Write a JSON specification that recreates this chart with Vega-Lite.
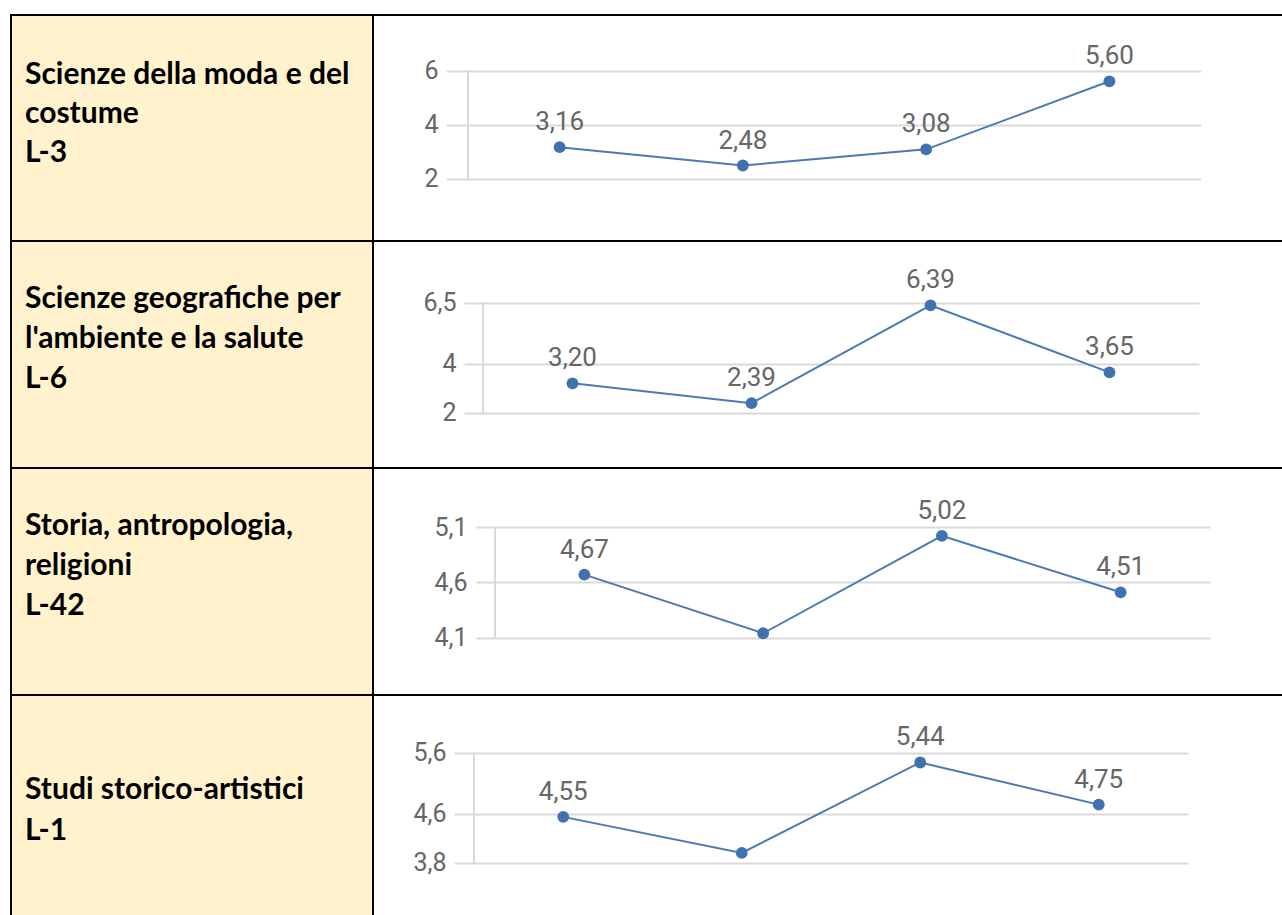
{
  "$schema": "https://vega.github.io/schema/vega-lite/v6.json",
  "padding": {"left": 10, "top": 14, "right": 0, "bottom": 0},
  "background": "white",
  "columns": 2,
  "spacing": 0,
  "bounds": "flush",
  "config": {
    "locale": {"number": {"decimal": ",", "thousands": ".", "grouping": [3], "currency": ["", " €"]}},
    "concat": {"spacing": 0}
  },
  "datasets": {
    "series": [
      {"course": "L-3", "period": 1, "value": 3.16, "labelled": true},
      {"course": "L-3", "period": 2, "value": 2.48, "labelled": true},
      {"course": "L-3", "period": 3, "value": 3.08, "labelled": true},
      {"course": "L-3", "period": 4, "value": 5.60, "labelled": true},
      {"course": "L-6", "period": 1, "value": 3.20, "labelled": true},
      {"course": "L-6", "period": 2, "value": 2.39, "labelled": true},
      {"course": "L-6", "period": 3, "value": 6.39, "labelled": true},
      {"course": "L-6", "period": 4, "value": 3.65, "labelled": true},
      {"course": "L-42", "period": 1, "value": 4.67, "labelled": true},
      {"course": "L-42", "period": 2, "value": 4.14, "labelled": false},
      {"course": "L-42", "period": 3, "value": 5.02, "labelled": true},
      {"course": "L-42", "period": 4, "value": 4.51, "labelled": true},
      {"course": "L-1", "period": 1, "value": 4.55, "labelled": true},
      {"course": "L-1", "period": 2, "value": 3.96, "labelled": false},
      {"course": "L-1", "period": 3, "value": 5.44, "labelled": true},
      {"course": "L-1", "period": 4, "value": 4.75, "labelled": true}
    ],
    "names": [
      {"course": "L-3", "line": 2, "text": "Scienze della moda e del"},
      {"course": "L-3", "line": 1, "text": "costume"},
      {"course": "L-3", "line": 0, "text": "L-3"},
      {"course": "L-6", "line": 2, "text": "Scienze geografiche per"},
      {"course": "L-6", "line": 1, "text": "l'ambiente e la salute"},
      {"course": "L-6", "line": 0, "text": "L-6"},
      {"course": "L-42", "line": 2, "text": "Storia, antropologia,"},
      {"course": "L-42", "line": 1, "text": "religioni"},
      {"course": "L-42", "line": 0, "text": "L-42"},
      {"course": "L-1", "line": 1, "text": "Studi storico-artistici"},
      {"course": "L-1", "line": 0, "text": "L-1"}
    ]
  },
  "concat": [
    {
      "width": 362, "height": 226,
      "view": {"fill": "#FFF2CC", "stroke": "black", "strokeWidth": 2},
      "data": {"name": "names"},
      "transform": [{"filter": "datum.course == 'L-3'"}],
      "mark": {"type": "text", "align": "left", "baseline": "middle", "font": "Lato", "fontWeight": "bold", "fontSize": 30, "color": "black"},
      "encoding": {
        "x": {"datum": 0, "type": "quantitative", "scale": {"domain": [0, 1], "range": [14, 362]}, "axis": null},
        "y": {"field": "line", "type": "quantitative", "scale": {"domain": [0, 2], "range": [138, 60]}, "axis": null},
        "text": {"field": "text"}
      }
    },
    {
      "width": 910, "height": 226,
      "view": {"fill": "white", "stroke": "black", "strokeWidth": 2},
      "data": {"name": "series"},
      "transform": [{"filter": "datum.course == 'L-3'"}],
      "encoding": {
        "x": {"field": "period", "type": "ordinal", "bandPosition": 0.5, "scale": {"type": "band", "range": [95, 828], "paddingInner": 0, "paddingOuter": 0}, "axis": null},
        "y": {"field": "value", "type": "quantitative", "scale": {"domain": [2, 6], "range": [163.5, 55.5], "nice": false, "zero": false},
          "axis": {"title": null, "orient": "left", "offset": -73, "values": [2, 4, 6], "format": ".2~f", "domain": false, "grid": false, "tickSize": -755, "tickColor": "#d9d9d9", "tickWidth": 2, "labelPadding": 763, "labelFont": "Roboto", "labelFontSize": 25, "labelColor": "#666666"}}
      },
      "layer": [
        {"mark": {"type": "line", "color": "#4a7ab4", "strokeWidth": 2}},
        {"mark": {"type": "point", "filled": true, "opacity": 1, "size": 140, "color": "#3f72af"}},
        {"transform": [{"filter": "datum.labelled"}], "mark": {"type": "text", "dy": -25, "baseline": "middle", "font": "Roboto", "fontSize": 26, "color": "#666666"}, "encoding": {"text": {"field": "value", "type": "quantitative", "format": ".2f"}}},
        {"mark": {"type": "rule", "color": "#d9d9d9", "strokeWidth": 2}, "encoding": {"x": {"datum": 1, "type": "ordinal", "bandPosition": 0}, "y": {"datum": 2, "type": "quantitative"}, "y2": {"datum": 6}}}
      ]
    },
    {
      "width": 362, "height": 227,
      "view": {"fill": "#FFF2CC", "stroke": "black", "strokeWidth": 2},
      "data": {"name": "names"},
      "transform": [{"filter": "datum.course == 'L-6'"}],
      "mark": {"type": "text", "align": "left", "baseline": "middle", "font": "Lato", "fontWeight": "bold", "fontSize": 30, "color": "black"},
      "encoding": {
        "x": {"datum": 0, "type": "quantitative", "scale": {"domain": [0, 1], "range": [14, 362]}, "axis": null},
        "y": {"field": "line", "type": "quantitative", "scale": {"domain": [0, 2], "range": [138, 58]}, "axis": null},
        "text": {"field": "text"}
      }
    },
    {
      "width": 910, "height": 227,
      "view": {"fill": "white", "stroke": "black", "strokeWidth": 2},
      "data": {"name": "series"},
      "transform": [{"filter": "datum.course == 'L-6'"}],
      "encoding": {
        "x": {"field": "period", "type": "ordinal", "bandPosition": 0.5, "scale": {"type": "band", "range": [110, 826], "paddingInner": 0, "paddingOuter": 0}, "axis": null},
        "y": {"field": "value", "type": "quantitative", "scale": {"domain": [2, 6.5], "range": [171.7, 61.7], "nice": false, "zero": false},
          "axis": {"title": null, "orient": "left", "offset": -91, "values": [2, 4, 6.5], "format": ".2~f", "domain": false, "grid": false, "tickSize": -735, "tickColor": "#d9d9d9", "tickWidth": 2, "labelPadding": 743, "labelFont": "Roboto", "labelFontSize": 25, "labelColor": "#666666"}}
      },
      "layer": [
        {"mark": {"type": "line", "color": "#4a7ab4", "strokeWidth": 2}},
        {"mark": {"type": "point", "filled": true, "opacity": 1, "size": 140, "color": "#3f72af"}},
        {"transform": [{"filter": "datum.labelled"}], "mark": {"type": "text", "dy": -25, "baseline": "middle", "font": "Roboto", "fontSize": 26, "color": "#666666"}, "encoding": {"text": {"field": "value", "type": "quantitative", "format": ".2f"}}},
        {"mark": {"type": "rule", "color": "#d9d9d9", "strokeWidth": 2}, "encoding": {"x": {"datum": 1, "type": "ordinal", "bandPosition": 0}, "y": {"datum": 2, "type": "quantitative"}, "y2": {"datum": 6.5}}}
      ]
    },
    {
      "width": 362, "height": 227,
      "view": {"fill": "#FFF2CC", "stroke": "black", "strokeWidth": 2},
      "data": {"name": "names"},
      "transform": [{"filter": "datum.course == 'L-42'"}],
      "mark": {"type": "text", "align": "left", "baseline": "middle", "font": "Lato", "fontWeight": "bold", "fontSize": 30, "color": "black"},
      "encoding": {
        "x": {"datum": 0, "type": "quantitative", "scale": {"domain": [0, 1], "range": [14, 362]}, "axis": null},
        "y": {"field": "line", "type": "quantitative", "scale": {"domain": [0, 2], "range": [138, 58]}, "axis": null},
        "text": {"field": "text"}
      }
    },
    {
      "width": 910, "height": 227,
      "view": {"fill": "white", "stroke": "black", "strokeWidth": 2},
      "data": {"name": "series"},
      "transform": [{"filter": "datum.course == 'L-42'"}],
      "encoding": {
        "x": {"field": "period", "type": "ordinal", "bandPosition": 0.5, "scale": {"type": "band", "range": [122, 837], "paddingInner": 0, "paddingOuter": 0}, "axis": null},
        "y": {"field": "value", "type": "quantitative", "scale": {"domain": [4.1, 5.1], "range": [169.7, 59], "nice": false, "zero": false},
          "axis": {"title": null, "orient": "left", "offset": -103, "values": [4.1, 4.6, 5.1], "format": ".2~f", "domain": false, "grid": false, "tickSize": -734, "tickColor": "#d9d9d9", "tickWidth": 2, "labelPadding": 743, "labelFont": "Roboto", "labelFontSize": 25, "labelColor": "#666666"}}
      },
      "layer": [
        {"mark": {"type": "line", "color": "#4a7ab4", "strokeWidth": 2}},
        {"mark": {"type": "point", "filled": true, "opacity": 1, "size": 140, "color": "#3f72af"}},
        {"transform": [{"filter": "datum.labelled"}], "mark": {"type": "text", "dy": -25, "baseline": "middle", "font": "Roboto", "fontSize": 26, "color": "#666666"}, "encoding": {"text": {"field": "value", "type": "quantitative", "format": ".2f"}}},
        {"mark": {"type": "rule", "color": "#d9d9d9", "strokeWidth": 2}, "encoding": {"x": {"datum": 1, "type": "ordinal", "bandPosition": 0}, "y": {"datum": 4.1, "type": "quantitative"}, "y2": {"datum": 5.1}}}
      ]
    },
    {
      "width": 362, "height": 227,
      "view": {"fill": "#FFF2CC", "stroke": "black", "strokeWidth": 2},
      "data": {"name": "names"},
      "transform": [{"filter": "datum.course == 'L-1'"}],
      "mark": {"type": "text", "align": "left", "baseline": "middle", "font": "Lato", "fontWeight": "bold", "fontSize": 30, "color": "black"},
      "encoding": {
        "x": {"datum": 0, "type": "quantitative", "scale": {"domain": [0, 1], "range": [14, 362]}, "axis": null},
        "y": {"field": "line", "type": "quantitative", "scale": {"domain": [0, 2], "range": [136, 54]}, "axis": null},
        "text": {"field": "text"}
      }
    },
    {
      "width": 910, "height": 227,
      "view": {"fill": "white", "stroke": "black", "strokeWidth": 2},
      "data": {"name": "series"},
      "transform": [{"filter": "datum.course == 'L-1'"}],
      "encoding": {
        "x": {"field": "period", "type": "ordinal", "bandPosition": 0.5, "scale": {"type": "band", "range": [101, 815], "paddingInner": 0, "paddingOuter": 0}, "axis": null},
        "y": {"field": "value", "type": "quantitative", "scale": {"domain": [3.8, 5.6], "range": [167.7, 57.7], "nice": false, "zero": false},
          "axis": {"title": null, "orient": "left", "offset": -81, "values": [3.8, 4.6, 5.6], "format": ".2~f", "domain": false, "grid": false, "tickSize": -734, "tickColor": "#d9d9d9", "tickWidth": 2, "labelPadding": 742, "labelFont": "Roboto", "labelFontSize": 25, "labelColor": "#666666"}}
      },
      "layer": [
        {"mark": {"type": "line", "color": "#4a7ab4", "strokeWidth": 2}},
        {"mark": {"type": "point", "filled": true, "opacity": 1, "size": 140, "color": "#3f72af"}},
        {"transform": [{"filter": "datum.labelled"}], "mark": {"type": "text", "dy": -25, "baseline": "middle", "font": "Roboto", "fontSize": 26, "color": "#666666"}, "encoding": {"text": {"field": "value", "type": "quantitative", "format": ".2f"}}},
        {"mark": {"type": "rule", "color": "#d9d9d9", "strokeWidth": 2}, "encoding": {"x": {"datum": 1, "type": "ordinal", "bandPosition": 0}, "y": {"datum": 3.8, "type": "quantitative"}, "y2": {"datum": 5.6}}}
      ]
    }
  ]
}
